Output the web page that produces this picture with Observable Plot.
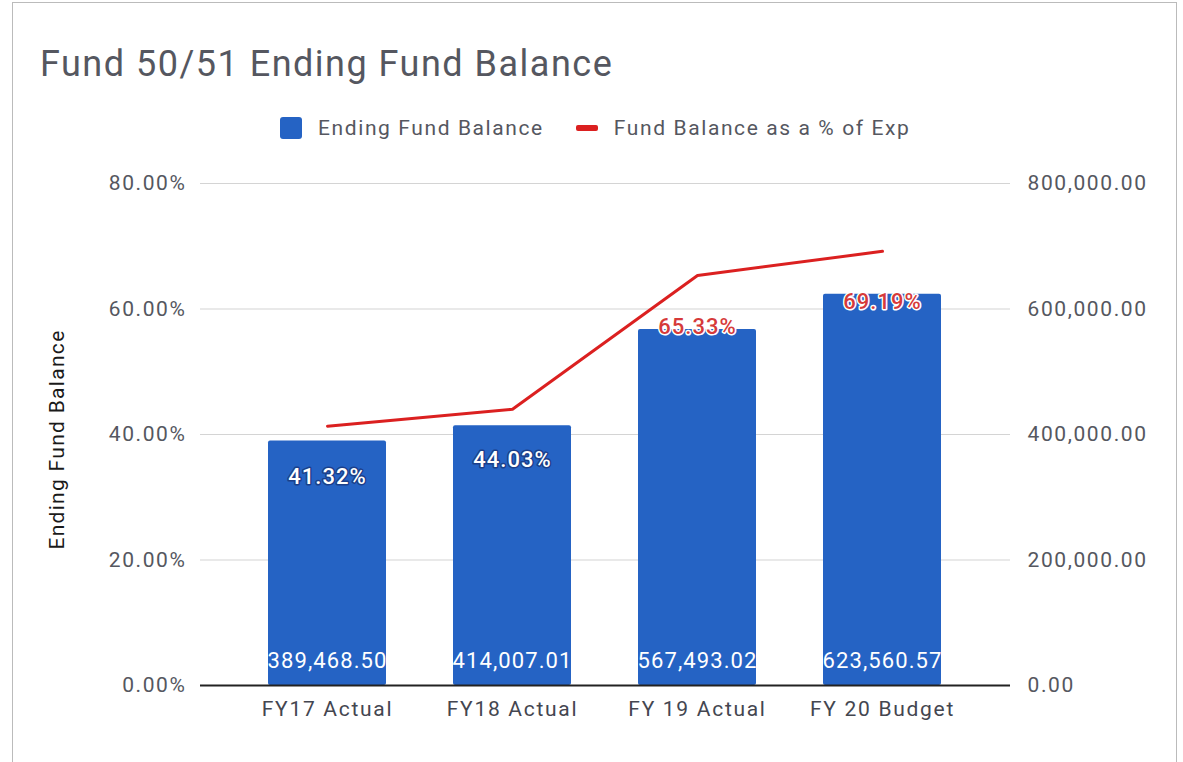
<!DOCTYPE html>
<html>
<head>
<meta charset="utf-8">
<script src="https://cdn.jsdelivr.net/npm/d3@7"></script>
<script src="https://cdn.jsdelivr.net/npm/@observablehq/plot@0.6"></script>
<style>
  html, body { margin: 0; padding: 0; background: #fff; }
  #wrap { position: relative; width: 1183px; height: 762px; overflow: hidden; font-family: Roboto, sans-serif; }
  #frame { position: absolute; left: 12px; top: 2px; width: 1165px; height: 770px; border: 1.5px solid #bbb; box-sizing: border-box; pointer-events: none; }
  #title { position: absolute; left: 40px; top: 43px; font-size: 36px; color: #555760; letter-spacing: 1.5px; white-space: nowrap; }
  #legend { position: absolute; left: 280px; top: 114px; height: 28px; display: flex; align-items: center; font-size: 21px; color: #555760; letter-spacing: 1.6px; white-space: nowrap; }
  .sw-bar { width: 22px; height: 22px; background: #2563c4; border-radius: 3px; margin-right: 16px; }
  .sw-line { width: 22px; height: 6px; background: #db2020; border-radius: 2px; margin-left: 32px; margin-right: 16px; }
  #chart { position: absolute; left: 0; top: 148px; }
  #chart g[aria-label="y-axis tick label"] text { letter-spacing: 1.6px; }
  #chart g[aria-label="x-axis tick label"] text { letter-spacing: 1.7px; }
  #chart g[aria-description="pct-labels"] text { letter-spacing: 1px; }
  #chart g[aria-description="bal-labels"] text { letter-spacing: 1.1px; }
  #chart g[aria-description="y-title"] text { letter-spacing: 1.3px; }
</style>
</head>
<body>
<div id="wrap">
  <div id="title">Fund 50/51 Ending Fund Balance</div>
  <div id="legend"><div class="sw-bar"></div><span>Ending Fund Balance</span><div class="sw-line"></div><span>Fund Balance as a % of Exp</span></div>
  <div id="chart"></div>
  <div id="frame"></div>
</div>
<script>
const categories = ["FY17 Actual", "FY18 Actual", "FY 19 Actual", "FY 20 Budget"];
const balances = [389468.50, 414007.01, 567493.02, 623560.57];
const percents = [41.32, 44.03, 65.33, 69.19];
const percentTicks = [0, 20, 40, 60, 80];
const balanceTicks = [0, 200000, 400000, 600000, 800000];
const pctLabelFill = ["white", "white", "#d63a3a", "#d63a3a"];
const pctLabelHalo = ["#1b3f8a", "#1b3f8a", "white", "white"];

const SCALE = 10000; // balance units per percent unit on shared y scale
const rows = categories.map((c, i) => ({
  cat: c, bal: balances[i], pct: percents[i],
  fill: pctLabelFill[i], halo: pctLabelHalo[i]
}));
const fmtBal = d3.format(",.2f");

const chart = Plot.plot({
  width: 1183,
  height: 614,
  marginLeft: 200,
  marginRight: 173,
  marginTop: 35,
  marginBottom: 77,
  style: { fontFamily: "Roboto, sans-serif", fontSize: "21px", color: "#555760", background: "transparent" },
  x: { domain: categories, padding: 0.36, label: null },
  y: { domain: [0, 80], label: null },
  marks: [
    Plot.gridY(percentTicks, { stroke: "#d4d4d4", strokeOpacity: 1, strokeWidth: 1.2 }),
    Plot.axisY(percentTicks, { anchor: "left", tickSize: 0, tickPadding: 14, tickFormat: d => d.toFixed(2) + "%", label: null, fontSize: 21 }),
    Plot.axisY(balanceTicks.map(v => v / SCALE), { anchor: "right", tickSize: 0, tickPadding: 17, tickFormat: d => fmtBal(d * SCALE), label: null, fontSize: 21 }),
    Plot.axisX({ tickSize: 0, tickPadding: 16, label: null, fontSize: 21, fill: "#444650" }),
    Plot.barY(rows, { x: "cat", y: d => d.bal / SCALE, fill: "#2563c4", rx: 2 }),
    Plot.ruleY([0], { stroke: "#222", strokeWidth: 2 }),
    Plot.lineY(rows, { x: "cat", y: "pct", stroke: "#db2020", strokeWidth: 3 }),
    Plot.text(rows, { ariaDescription: "pct-labels", x: "cat", y: "pct", text: d => d.pct.toFixed(2) + "%", dy: 51, fill: d => d.fill, stroke: d => d.halo, strokeWidth: 3, paintOrder: "stroke", fontSize: 22, fontWeight: 500 }),
    Plot.text(rows, { ariaDescription: "bal-labels", x: "cat", y: 0, text: d => fmtBal(d.bal), dy: -25, fill: "white", fontSize: 22 }),
    Plot.text(["Ending Fund Balance"], { ariaDescription: "y-title", frameAnchor: "left", textAnchor: "middle", dx: -143, dy: 5, rotate: -90, fill: "#1a1a1a", fontSize: 21 })
  ]
});
document.getElementById("chart").appendChild(chart);
</script>
</body>
</html>
